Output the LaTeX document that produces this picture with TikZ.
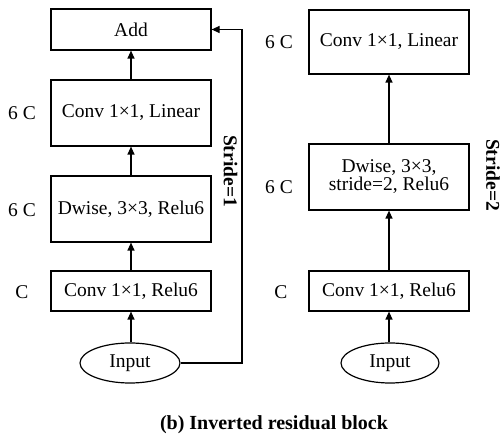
\documentclass[tikz,border=0pt]{standalone}
\usepackage{fontspec}
\setmainfont{Liberation Serif}
\usetikzlibrary{arrows.meta,shapes.geometric}
\begin{document}
\begin{tikzpicture}[x=1pt,y=-1pt,
  every node/.style={font=\fontsize{19.5}{18}\selectfont},
  blk/.style={draw,line width=1.2pt,minimum width=160pt,inner sep=0pt,align=center},
  inp/.style={draw,ellipse,line width=1.2pt,minimum height=40pt,inner sep=0pt},
  lab/.style={inner sep=0pt},
  strd/.style={inner sep=0pt,rotate=-90,font=\fontsize{19.5}{18}\selectfont\bfseries},
  arr/.style={line width=1.2pt,-{Triangle[length=8pt,width=7pt]}}]
\useasboundingbox (0,0) rectangle (501,435);

% stride = 1 branch
\node[blk,minimum height=41pt] (addL) at (131,29.5) {Add};
\node[blk,minimum height=66pt] (linL) at (131,113) {Conv 1×1, Linear};
\node[blk,minimum height=66pt] (dwL) at (131,209) {Dwise, 3×3, Relu6};
\node[blk,minimum height=40pt] (reL) at (131,291) {Conv 1×1, Relu6};
\node[inp,minimum width=100pt] (inL) at (130,363) {Input};

\node[lab] (cL1) at (22,113) {6 C};
\node[lab] (cL2) at (22,210) {6 C};
\node[lab] (cL3) at (22,292) {C};

\draw[arr] (inL.north -| reL.south) -- (reL.south);
\draw[arr] (reL.north) -- (dwL.south);
\draw[arr] (dwL.north) -- (linL.south);
\draw[arr] (linL.north) -- (addL.south);
\coordinate (skip) at (242,29.5);
\draw[arr] (inL.east) -| (skip) -- (addL.east);
\node[strd] (s1) at (230.5,171) {Stride=1};

% stride = 2 branch
\node[blk,minimum height=64pt] (linR) at (389,42) {Conv 1×1, Linear};
\node[blk,minimum height=66pt] (dwR) at (389,177) {Dwise, 3×3,\\stride=2, Relu6};
\node[blk,minimum height=40pt] (reR) at (389,291) {Conv 1×1, Relu6};
\node[inp,minimum width=98pt] (inR) at (390,363) {Input};

\node[lab] (cR1) at (279,42) {6 C};
\node[lab] (cR2) at (279,187) {6 C};
\node[lab] (cR3) at (281,292) {C};

\draw[arr] (inR.north -| reR.south) -- (reR.south);
\draw[arr] (reR.north) -- (dwR.south);
\draw[arr] (dwR.north) -- (linR.south);
\node[strd] (s2) at (493,175) {Stride=2};

\node[inner sep=0pt,anchor=base,font=\fontsize{20}{22}\selectfont\bfseries] (cap) at (274,430) {(b) Inverted residual block};
\end{tikzpicture}
\end{document}
